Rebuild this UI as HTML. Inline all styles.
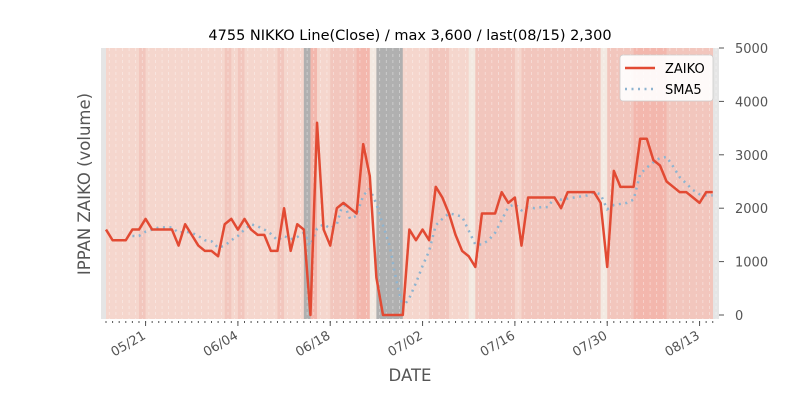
<!DOCTYPE html>
<html><head><meta charset="utf-8"><style>
body{margin:0;background:#fff;}
svg{display:block;font-family:"DejaVu Sans","Liberation Sans",sans-serif;}
</style></head><body>
<svg id="c" width="800" height="400"></svg>
<script>
const zaiko=[1600,1400,1400,1400,1600,1600,1800,1600,1600,1600,1600,1300,1700,1500,1300,1200,1200,1100,1700,1800,1600,1800,1600,1500,1500,1200,1200,2000,1200,1700,1600,0,3600,1600,1300,2000,2100,2000,1900,3200,2600,700,0,0,0,0,1600,1400,1600,1400,2400,2200,1900,1500,1200,1100,900,1900,1900,1900,2300,2100,2200,1300,2200,2200,2200,2200,2200,2000,2300,2300,2300,2300,2300,2100,900,2700,2400,2400,2400,3300,3300,2900,2800,2500,2400,2300,2300,2200,2100,2300,2300];
const bandLevels=[0,0,0,0,0,1,0,0,0,0,0,0,0,0,0,0,0,0,1,0,1,0,0,0,0,0,1,0,0,0,4,2,0,0,1,1,1,1,2,2,3,4,4,4,4,0,0,0,0,1,1,1,0,0,0,3,1,1,1,1,1,1,0,1,1,1,1,1,1,1,1,1,1,1,1,3,1,1,1,1,2,2,2,2,2,1,1,1,1,1,1,1];
const yTicks=[0,1000,2000,3000,4000,5000];
const xTickLabels=["05/21","06/04","06/18","07/02","07/16","07/30","08/13"];
const xTickIdx=[6,20,34,48,62,76,90];
const startDay=new Date(2018,4,15);

const NS="http://www.w3.org/2000/svg";
const svg=document.getElementById('c');
const L=101,R=719,T=48,B=319;
const dx=6.595,x0=106;
const X=i=>x0+i*dx;
const Y=v=>315-v*(267/5000);
function el(tag,attrs,parent){const e=document.createElementNS(NS,tag);for(const k in attrs)e.setAttribute(k,attrs[k]);(parent||svg).appendChild(e);return e;}

const bg=el('rect',{x:L,y:T,width:R-L,height:B-T,fill:'#e5e5e5'});


const cols=['#f5d6cd','#f2c6bd','#f3b7ad','#f3e9e1','#b0b0b0'];
bandLevels.forEach((lv,i)=>{
  const r=el('rect',{x:X(i),y:T,width:dx+0.3,height:B-T,fill:cols[lv]});
  
  
});
for(let i=0;i<zaiko.length;i++){
  const g=el('line',{x1:X(i)+dx/2,x2:X(i)+dx/2,y1:T,y2:B,stroke:'#fff','stroke-opacity':0.45,'stroke-width':0.8,'stroke-dasharray':'3,3'});
  
  
}
// SMA5
const sma=[];
for(let i=4;i<zaiko.length;i++){let s=0;for(let j=i-4;j<=i;j++)s+=zaiko[j];sma.push([i,s/5]);}
const sp=el('polyline',{points:sma.map(p=>X(p[0])+','+Y(p[1])).join(' '),fill:'none',stroke:'#8eb4d0','stroke-width':2.5,'stroke-dasharray':'2,4.5','stroke-linecap':'butt'});


const zp=el('polyline',{points:zaiko.map((v,i)=>X(i)+','+Y(v)).join(' '),fill:'none',stroke:'#e24a33','stroke-width':2.5,'stroke-linejoin':'round'});


// x ticks
for(let i=0;i<zaiko.length;i++){
  const t=el('line',{x1:X(i),x2:X(i),y1:B+2,y2:B+4,stroke:'#555','stroke-width':1});
  
  
}
xTickIdx.forEach((ix,k)=>{
  const t=el('line',{x1:X(ix),x2:X(ix),y1:B+2,y2:B+7,stroke:'#555','stroke-width':1});
  
  
  const tx=el('text',{x:X(ix)+1,y:B+19,'text-anchor':'end','font-size':13,fill:'#555',transform:`rotate(-30 ${X(ix)+1} ${B+19})`});
  tx.textContent=xTickLabels[k];
  
  
});
yTicks.forEach(v=>{
  const t=el('line',{x1:R,x2:R+5,y1:Y(v),y2:Y(v),stroke:'#555','stroke-width':1});
  
  
  const tx=el('text',{x:R+16,y:Y(v)+5,'font-size':13,fill:'#555'});
  tx.textContent=v;
  
  
});
const title=el('text',{x:410,y:40,'text-anchor':'middle','font-size':14.5,fill:'#000'});
title.textContent='4755 NIKKO Line(Close) / max 3,600 / last(08/15) 2,300';


const xl=el('text',{x:410,y:381,'text-anchor':'middle','font-size':16.5,fill:'#555'});
xl.textContent='DATE';


const yl=el('text',{x:90,y:184,'text-anchor':'middle','font-size':16.5,fill:'#555',transform:'rotate(-90 90 184)'});
yl.textContent='IPPAN ZAIKO (volume)';


// legend
const lg=el('g',{});


el('rect',{x:620,y:55,width:93,height:46,rx:3,fill:'#fff','fill-opacity':0.9,stroke:'#ccc','stroke-width':0.8},lg);
el('line',{x1:625,x2:655,y1:68,y2:68,stroke:'#e24a33','stroke-width':2.5},lg);
el('line',{x1:625,x2:655,y1:89,y2:89,stroke:'#8eb4d0','stroke-width':2.5,'stroke-dasharray':'2,4.5'},lg);
const l1=el('text',{x:665,y:73,'font-size':13,fill:'#000'},lg);l1.textContent='ZAIKO';


const l2=el('text',{x:665,y:94,'font-size':13,fill:'#000'},lg);l2.textContent='SMA5';


</script>
</body></html>
